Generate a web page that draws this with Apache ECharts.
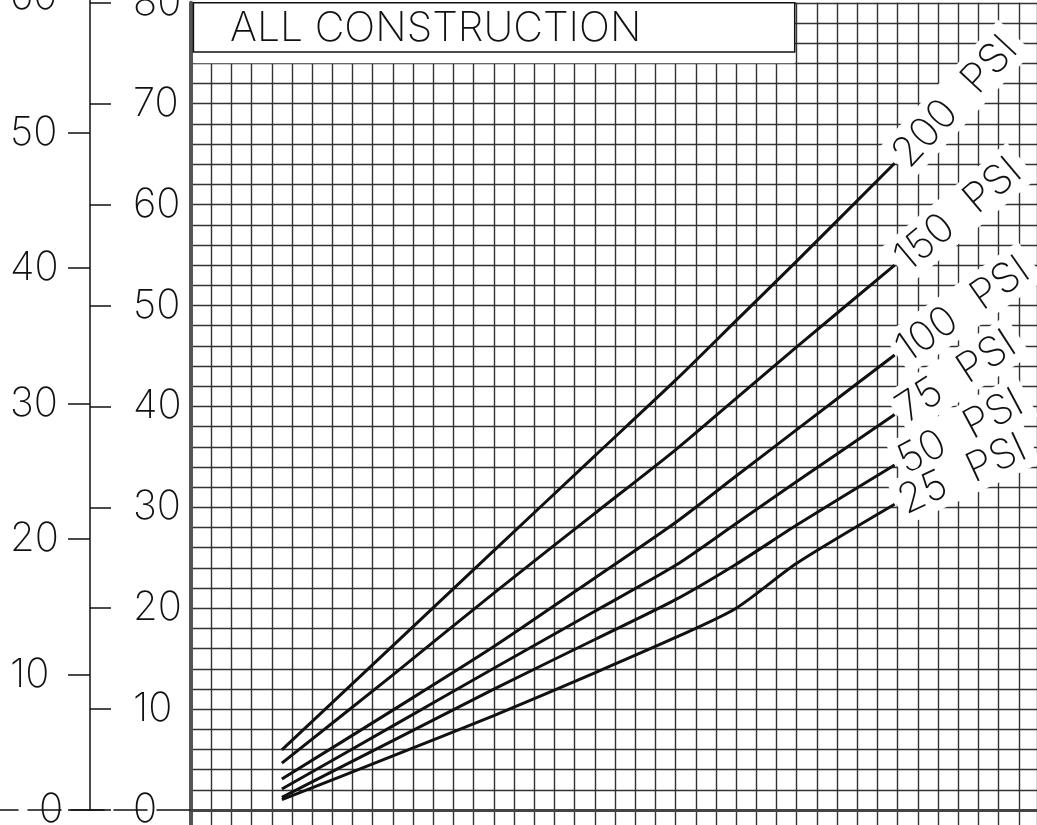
<!DOCTYPE html>
<html><head><meta charset="utf-8">
<script src="https://cdn.jsdelivr.net/npm/echarts@6/dist/echarts.min.js"></script>
<style>html,body{margin:0;padding:0;background:#fff}#c{width:1037px;height:825px}</style>
</head><body><div id="c"></div>
<script>
// ---- data ----
const xPoints = [4.5, 10, 15, 20, 24, 27, 30, 34.85];
const psi200 = [5.96, 16.3, 25.7, 35.1, 42.6, 48.5, 54.4, 64.1];
const psi150 = [4.65, 13.4, 21.5, 29.4, 35.7, 40.8, 45.9, 54.0];
const psi100 = [3.07, 9.9, 16.2, 23.0, 28.5, 33.1, 37.7, 45.1];
const psi75  = [2.08, 8.34, 14.05, 19.7, 24.25, 28.4, 32.55, 39.2];
const psi50  = [1.26, 6.88, 11.98, 16.9, 20.85, 24.36, 28.24, 34.2];
const psi25  = [1.02, 5.37, 9.35, 13.6, 17.1, 20.0, 24.45, 30.3];
const seriesNames = ['200 PSI', '150 PSI', '100 PSI', '75 PSI', '50 PSI', '25 PSI'];
const outerScale = [0, 60, 10];   // min, max, step (left scale)
const innerScale = [0, 80, 10];   // min, max, step (right scale)
const titleText = 'ALL CONSTRUCTION';

const allSeries = [psi200, psi150, psi100, psi75, psi50, psi25];
const FONT = 'Inter';
const FW = 200;
const INK = '#111';
const GRIDC = '#333';
const labelAngles = [47, 40, 35, 33, 28, 25];

const chart = echarts.init(document.getElementById('c'), null, {renderer: 'canvas'});

const psiRich = {
  n: {fontFamily: FONT, fontWeight: FW, fontSize: 41, color: INK},
  p: {fontFamily: FONT, fontWeight: FW, fontSize: 41, color: INK, padding: [0, 0, 0, 26]}
};

const series = allSeries.map((arr, i) => {
  const n = arr.length - 1;
  const parts = seriesNames[i].split(' ');
  const s = {
    name: seriesNames[i],
    type: 'line',
    xAxisIndex: 0, yAxisIndex: 0,
    symbol: 'none',
    smooth: 0.25,
    data: xPoints.map((x, k) => [x, arr[k]]),
    lineStyle: {color: INK, width: 3},
    z: 3,
    markPoint: {
      symbol: 'rect', symbolSize: 0.1,
      itemStyle: {color: 'rgba(0,0,0,0)'},
      data: [{coord: [xPoints[n], arr[n]]}],
      label: {
        show: true, position: 'right', distance: 2, rotate: labelAngles[i],
        formatter: '{n|' + parts[0] + '}{p|' + parts[1] + '}',
        rich: psiRich,
        fontFamily: FONT, fontWeight: FW, fontSize: 41, color: INK,
        backgroundColor: '#fff', padding: [4, 8, 2, 4]
      },
      z: 10 + i
    }
  };
  if (i === 0) {
    s.markArea = {
      silent: true,
      data: [
        [{coord: [0.12, 74], itemStyle: {color: '#fff'}}, {coord: [29.9, 80]}],
        [{coord: [0.12, 75.12], itemStyle: {color: 'rgba(0,0,0,0)', borderColor: INK, borderWidth: 1.5}}, {coord: [29.9, 80]}]
      ]
    };
  }
  return s;
});

const labelStyle = {fontFamily: FONT, fontWeight: FW, fontSize: 40, color: INK};

chart.setOption({
  animation: false,
  backgroundColor: '#fff',
  title: {
    text: titleText, left: 225, top: 3,
    textStyle: {fontFamily: FONT, fontWeight: FW, fontSize: 41, color: INK}
  },
  grid: [
    {left: 191, right: 0, top: 2.8, bottom: -5.2, outerBoundsMode: 'none', containLabel: false},
    {left: 90, width: 100, top: -3, bottom: 15, outerBoundsMode: 'none', containLabel: false},
    {left: 90, width: 100, top: 2.8, bottom: 15, outerBoundsMode: 'none', containLabel: false},
    {left: -15, width: 206, top: 0, bottom: 15, outerBoundsMode: 'none', containLabel: false}
  ],
  xAxis: [
    {gridIndex: 0, type: 'value', min: 0, max: 41.9, interval: 1,
     axisLine: {show: true, onZero: true, lineStyle: {color: '#444', width: 3}},
     axisTick: {show: false}, axisLabel: {show: false},
     splitLine: {show: true, lineStyle: {color: GRIDC, width: 1.4}}},
    {gridIndex: 1, type: 'value', show: false},
    {gridIndex: 2, type: 'value', show: false},
    {gridIndex: 3, type: 'value', min: 0, max: 1,
     axisLine: {show: true, onZero: false, lineStyle: {color: INK, width: 1.5, type: [33, 10]}},
     axisTick: {show: false}, axisLabel: {show: false}, splitLine: {show: false}}
  ],
  yAxis: [
    {gridIndex: 0, type: 'value', min: -2, max: innerScale[1], interval: 2,
     axisLine: {show: true, onZero: false, lineStyle: {color: '#555', width: 4}},
     axisTick: {show: false},
     axisLabel: Object.assign({margin: 58, align: 'left',
       formatter: v => (v >= 0 && v % innerScale[2] === 0) ? String(v) : ''}, labelStyle),
     splitLine: {show: true, lineStyle: {color: GRIDC, width: 1.4}}},
    {gridIndex: 1, type: 'value', min: outerScale[0], max: outerScale[1], interval: outerScale[2],
     axisLine: {show: true, onZero: false, lineStyle: {color: INK, width: 1.5}},
     axisTick: {show: true, length: 22, lineStyle: {color: INK, width: 1.5}},
     axisLabel: Object.assign({margin: 80, align: 'left',
       formatter: v => v === 0 ? '{z|0}' : String(v),
       rich: {z: Object.assign({padding: [0, 0, 0, 29]}, labelStyle)}}, labelStyle),
     splitLine: {show: false}},
    {gridIndex: 2, type: 'value', min: innerScale[0], max: innerScale[1], interval: innerScale[2],
     axisLine: {show: false, onZero: false},
     axisTick: {show: true, inside: true, length: 21, lineStyle: {color: INK, width: 1.5}},
     axisLabel: {show: false}, splitLine: {show: false}},
    {gridIndex: 3, type: 'value', show: false, min: 0, max: 1}
  ],
  series: series
});
</script>
</body></html>
